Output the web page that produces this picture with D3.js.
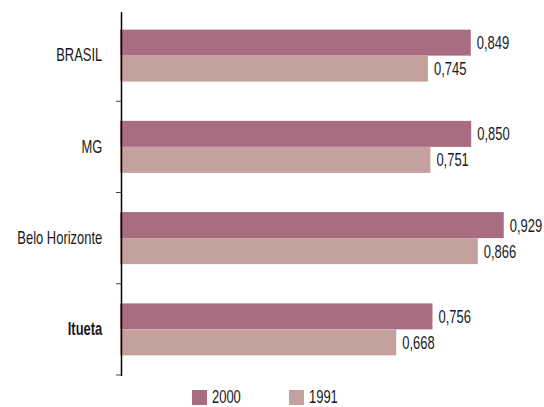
<!DOCTYPE html>
<html>
<head>
<meta charset="utf-8">
<script src="https://cdn.jsdelivr.net/npm/d3@7"></script>
<style>
  body { margin: 0; background: #fff; }
  .chart text { font-family: "Liberation Sans", Arial, sans-serif; fill: #1a1a1a; }
</style>
</head>
<body>
<svg class="chart"></svg>
<script>
var categories = ["BRASIL", "MG", "Belo Horizonte", "Itueta"];
var seriesNames = ["2000", "1991"];
var values2000 = [0.849, 0.850, 0.929, 0.756];
var values1991 = [0.745, 0.751, 0.866, 0.668];
var seriesColors = ["#a86d82", "#c5a19d"];

var margin = {top: 10, right: 13, bottom: 32, left: 121},
    width = 544 - margin.left - margin.right,
    height = 407 - margin.top - margin.bottom;

var squeeze = "scale(0.72,1)";

var data = categories.map(function(c, i) {
  return {name: c, values: [values2000[i], values1991[i]]};
});

var x = d3.scaleLinear()
    .domain([0, 1])
    .range([0, 412]);

var y = d3.scaleBand()
    .domain(categories)
    .range([0, height]);

var y1 = d3.scaleBand()
    .domain(seriesNames)
    .range([0, y.bandwidth()])
    .paddingOuter(0.755);

var color = d3.scaleOrdinal().domain(seriesNames).range(seriesColors);

var chart = d3.select(".chart")
    .attr("width", 544)
    .attr("height", 407)
  .append("g")
    .attr("transform", "translate(" + margin.left + "," + margin.top + ")");

var groups = chart.selectAll(".cat")
    .data(data)
  .enter().append("g")
    .attr("class", "cat")
    .attr("transform", function(d) { return "translate(0," + y(d.name) + ")"; });

groups.selectAll("rect")
    .data(function(d) { return d.values.map(function(v, i) { return {key: seriesNames[i], value: v}; }); })
  .enter().append("rect")
    .attr("x", -1)
    .attr("y", function(d) { return y1(d.key); })
    .attr("width", function(d) { return x(d.value) + 1; })
    .attr("height", y1.bandwidth())
    .attr("fill", function(d) { return color(d.key); });

// value labels
groups.selectAll(".val")
    .data(function(d) { return d.values.map(function(v, i) { return {key: seriesNames[i], value: v}; }); })
  .enter().append("text")
    .attr("class", "val")
    .attr("transform", function(d) {
      return "translate(" + (x(d.value) + 6) + "," + (y1(d.key) + y1.bandwidth() / 2) + ") " + squeeze;
    })
    .attr("dy", "0.36em")
    .style("font-size", "18px")
    .text(function(d) { return d3.format(".3f")(d.value).replace(".", ","); });

// category axis
var yAxis = d3.axisLeft(y).tickSize(0).tickPadding(26);

var ax = chart.append("g")
    .attr("class", "y axis")
    .call(yAxis);

ax.select(".domain").remove();
ax.selectAll("text")
    .attr("transform", squeeze)
    .style("font-size", "18px")
    .style("font-weight", function(d) { return d === "Itueta" ? "bold" : "normal"; });

// axis line + ticks between categories
chart.append("line")
    .attr("x1", 0.5).attr("x2", 0.5)
    .attr("y1", 2).attr("y2", height + 1)
    .attr("stroke", "#000")
    .attr("stroke-width", 1.5);

chart.selectAll(".tick-sep")
    .data(categories)
  .enter().append("line")
    .attr("class", "tick-sep")
    .attr("x1", -5).attr("x2", 0)
    .attr("y1", function(d) { return y(d) + y.bandwidth(); })
    .attr("y2", function(d) { return y(d) + y.bandwidth(); })
    .attr("stroke", "#444")
    .attr("stroke-width", 1);

// legend
var legend = d3.select(".chart").append("g")
    .attr("transform", "translate(192,390)");

var items = legend.selectAll(".item")
    .data(seriesNames)
  .enter().append("g")
    .attr("class", "item")
    .attr("transform", function(d, i) { return "translate(" + (i * 97) + ",0)"; });

items.append("rect")
    .attr("width", 15)
    .attr("height", 15)
    .attr("fill", function(d) { return color(d); });

items.append("text")
    .attr("transform", "translate(20,13) " + squeeze)
    .style("font-size", "18px")
    .text(function(d) { return d; });
</script>
</body>
</html>
